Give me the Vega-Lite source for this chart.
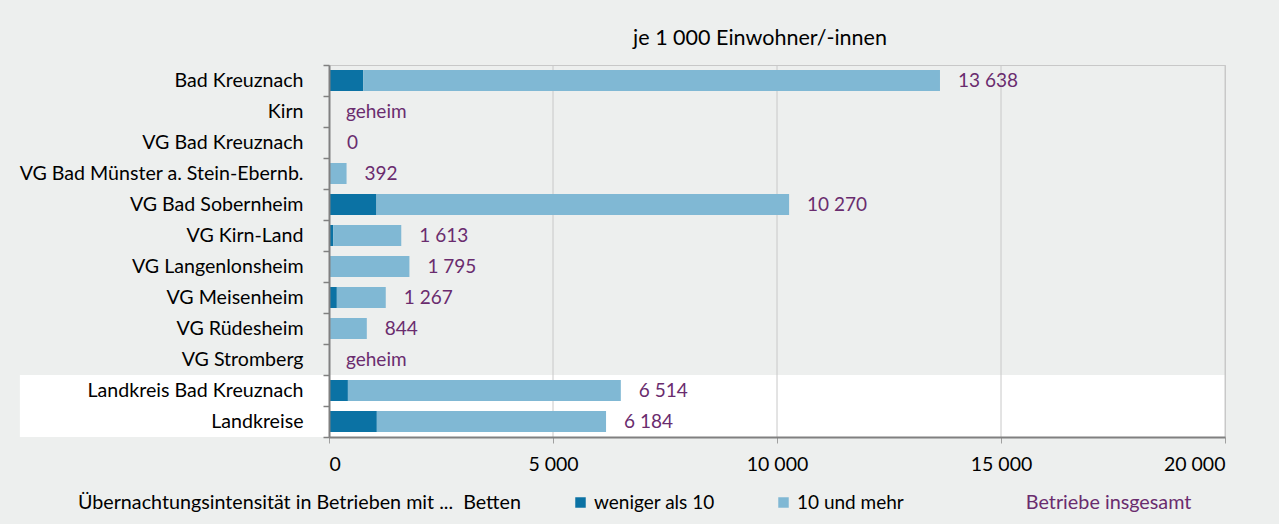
{
  "$schema": "https://vega.github.io/schema/vega-lite/v6.json",
  "width": 896,
  "height": 372,
  "autosize": {"type": "none"},
  "padding": {"left": 329, "top": 65, "right": 54, "bottom": 87},
  "background": "#edefee",
  "config": {
    "font": "Lato",
    "view": {"stroke": "#c8c8c8", "strokeWidth": 1},
    "locale": {"number": {"decimal": ",", "thousands": " ", "grouping": [3], "currency": ["", "\u00a0€"]}},
    "legend": {"labelFontSize": 19, "labelColor": "#000000", "titleFontSize": 19.7, "titleFontWeight": "normal", "titleColor": "#000000", "titleLimit": 1000, "labelLimit": 500, "symbolType": "square", "symbolSize": 110, "symbolStrokeWidth": 0, "labelOffset": 4, "orient": "none"}
  },
  "title": {"text": "je 1 000 Einwohner/-innen", "fontSize": 21.5, "fontWeight": "normal", "color": "#000000", "anchor": "middle", "dx": -17, "offset": 6},
  "datasets": {
    "gebiete": [
      {"Region": "Bad Kreuznach", "Gruppe": "Gemeinde", "weniger_als_10": 765, "insgesamt": 13638, "Status": "offen"},
      {"Region": "Kirn", "Gruppe": "Gemeinde", "weniger_als_10": null, "insgesamt": null, "Status": "geheim"},
      {"Region": "VG Bad Kreuznach", "Gruppe": "Gemeinde", "weniger_als_10": 0, "insgesamt": 0, "Status": "offen"},
      {"Region": "VG Bad Münster a. Stein-Ebernb.", "Gruppe": "Gemeinde", "weniger_als_10": 0, "insgesamt": 392, "Status": "offen"},
      {"Region": "VG Bad Sobernheim", "Gruppe": "Gemeinde", "weniger_als_10": 1060, "insgesamt": 10270, "Status": "offen"},
      {"Region": "VG Kirn-Land", "Gruppe": "Gemeinde", "weniger_als_10": 95, "insgesamt": 1613, "Status": "offen"},
      {"Region": "VG Langenlonsheim", "Gruppe": "Gemeinde", "weniger_als_10": 0, "insgesamt": 1795, "Status": "offen"},
      {"Region": "VG Meisenheim", "Gruppe": "Gemeinde", "weniger_als_10": 175, "insgesamt": 1267, "Status": "offen"},
      {"Region": "VG Rüdesheim", "Gruppe": "Gemeinde", "weniger_als_10": 25, "insgesamt": 844, "Status": "offen"},
      {"Region": "VG Stromberg", "Gruppe": "Gemeinde", "weniger_als_10": null, "insgesamt": null, "Status": "geheim"},
      {"Region": "Landkreis Bad Kreuznach", "Gruppe": "Kreis", "weniger_als_10": 422, "insgesamt": 6514, "Status": "offen"},
      {"Region": "Landkreise", "Gruppe": "Kreis", "weniger_als_10": 1068, "insgesamt": 6184, "Status": "offen"}
    ],
    "gitter": [{"Wert": 5000}, {"Wert": 10000}, {"Wert": 15000}, {"Wert": 20000}]
  },
  "encoding": {
    "y": {
      "field": "Region",
      "type": "nominal",
      "scale": {
        "domain": ["Bad Kreuznach", "Kirn", "VG Bad Kreuznach", "VG Bad Münster a. Stein-Ebernb.", "VG Bad Sobernheim", "VG Kirn-Land", "VG Langenlonsheim", "VG Meisenheim", "VG Rüdesheim", "VG Stromberg", "Landkreis Bad Kreuznach", "Landkreise"],
        "paddingInner": 0,
        "paddingOuter": 0
      },
      "axis": {"title": null, "labelFontSize": 19.6, "labelColor": "#000000", "labelPadding": 20, "labelLimit": 500, "tickBand": "extent", "tickSize": 6, "tickColor": "#808080", "tickWidth": 1.5, "domainColor": "#808080", "domainWidth": 2, "zindex": 1}
    }
  },
  "layer": [
    {
      "data": {"name": "gebiete"},
      "transform": [{"filter": "datum.Gruppe === 'Kreis'"}],
      "mark": {"type": "rect", "fill": "#ffffff"},
      "encoding": {
        "x": {"datum": -6900, "type": "quantitative", "scale": {"domain": [0, 20000]}},
        "x2": {"datum": 20000}
      }
    },
    {
      "data": {"name": "gitter"},
      "mark": {"type": "rule", "color": "#c8c8c8", "strokeWidth": 1},
      "encoding": {"x": {"field": "Wert", "type": "quantitative"}, "y": null}
    },
    {
      "data": {"name": "gebiete"},
      "transform": [{"filter": "datum.Status === 'offen'"}],
      "mark": {"type": "bar", "size": 21},
      "encoding": {
        "x": {
          "field": "weniger_als_10",
          "type": "quantitative",
          "scale": {"domain": [0, 20000]},
          "axis": {"title": null, "values": [0, 5000, 10000, 15000, 20000], "format": ",d", "grid": false, "labelFontSize": 19.5, "labelColor": "#000000", "labelPadding": 12, "tickSize": 6, "tickColor": "#a0a0a0", "domainColor": "#808080", "domainWidth": 2, "zindex": 1}
        },
        "color": {
          "datum": "weniger als 10",
          "type": "nominal",
          "scale": {"range": ["#0b72a4"]},
          "legend": {"title": "Übernachtungsintensität in Betrieben mit ...\u00a0 Betten", "titleOrient": "left", "titlePadding": 50, "legendX": -251, "legendY": 428}
        }
      }
    },
    {
      "data": {"name": "gebiete"},
      "transform": [{"filter": "datum.Status === 'offen'"}],
      "mark": {"type": "bar", "size": 21},
      "encoding": {
        "x": {"field": "weniger_als_10", "type": "quantitative"},
        "x2": {"field": "insgesamt"},
        "color": {
          "datum": "10 und mehr",
          "type": "nominal",
          "scale": {"range": ["#80b8d4"]},
          "legend": {"title": null, "legendX": 445, "legendY": 428}
        }
      }
    },
    {
      "data": {"name": "gebiete"},
      "transform": [{"filter": "datum.Status === 'offen'"}],
      "mark": {"type": "text", "align": "left", "baseline": "middle", "dx": 18, "fontSize": 19},
      "encoding": {
        "x": {"field": "insgesamt", "type": "quantitative"},
        "text": {"field": "insgesamt", "type": "quantitative", "format": ",d"},
        "color": {
          "datum": "Betriebe insgesamt",
          "type": "nominal",
          "scale": {"range": ["#6a2c6e"]},
          "legend": {"title": null, "legendX": 677, "legendY": 428, "symbolOpacity": 0, "symbolSize": 1, "labelOffset": 0, "labelFontSize": 19.8, "labelColor": "#6a2c6e"}
        }
      }
    },
    {
      "data": {"name": "gebiete"},
      "transform": [{"filter": "datum.Status === 'geheim'"}],
      "mark": {"type": "text", "align": "left", "baseline": "middle", "dx": 17, "fontSize": 19, "color": "#6a2c6e"},
      "encoding": {
        "x": {"datum": 0, "type": "quantitative"},
        "text": {"value": "geheim"}
      }
    }
  ],
  "resolve": {"scale": {"color": "independent"}, "legend": {"color": "independent"}}
}
